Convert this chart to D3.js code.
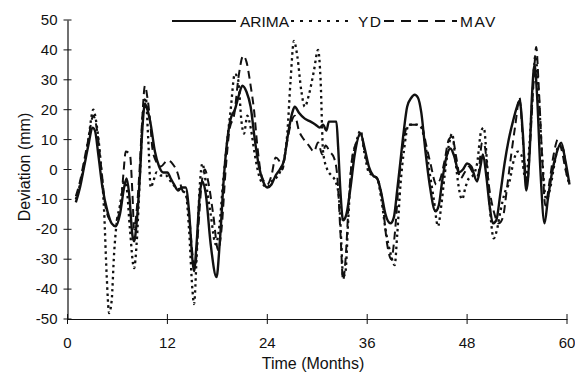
<!DOCTYPE html>
<html>
<head>
<meta charset="utf-8">
<script src="https://cdn.jsdelivr.net/npm/d3@7"></script>
<style>
  body { margin: 0; background: #fff; }
  svg { display: block; font-family: "Liberation Sans", Arial, sans-serif; }
</style>
</head>
<body>
<svg id="chart" width="575" height="376"></svg>
<script>
// Values (month, deviation in mm)
const arimaMonths = [1.0,1.5,2.0,2.5,3.0,3.3,3.7,4.2,4.8,5.3,5.8,6.3,6.8,7.1,7.4,7.8,8.0,8.3,8.7,9.0,9.3,9.6,10.0,10.5,11.0,11.5,12.0,12.4,12.8,13.3,13.7,14.2,14.6,15.0,15.2,15.5,15.9,16.2,16.6,17.2,17.9,18.3,18.8,19.2,19.6,20.1,20.6,21.0,21.5,22.0,22.5,23.0,23.5,24.0,24.5,25.0,25.5,26.0,26.5,27.0,27.3,27.8,28.5,29.2,29.8,30.3,30.7,31.1,31.4,32.0,32.3,32.5,32.8,33.1,33.5,34.0,34.5,35.2,35.7,36.2,36.7,37.2,37.7,38.2,38.8,39.2,39.6,40.0,40.4,40.8,41.3,41.7,42.1,42.5,43.0,43.5,44.2,44.6,45.0,45.5,46.0,46.5,47.0,47.5,48.0,48.5,49.2,49.6,49.9,50.3,50.7,51.1,51.5,52.0,52.5,53.0,53.5,54.0,54.3,54.7,55.1,55.5,55.8,56.1,56.4,56.8,57.3,57.7,58.2,58.7,59.3,59.8,60.3];
const arimaValues = [-11,-6,1,8,14,13,5,-6,-14,-18,-19,-15,-6,-3,-8,-22,-24,-18,-2,14,22,20,15,6,1,-1,-1,-3,-5,-7,-6,-6,-14,-30,-34,-25,-8,-4,-8,-25,-36,-24,-2,10,17,20,25,28,26,21,10,1,-4,-6,-5,-2,0,3,12,19,21,19,17,16,15,14,15,13,16,16,16,8,-8,-17,-15,-6,5,12,7,1,-2,-3,-8,-15,-18,-16,-7,3,13,21,24,25,24,19,6,-5,-14,-12,-4,4,7,4,-1,0,2,1,-4,1,5,-2,-12,-18,-17,-8,2,10,16,21,23,12,-7,5,25,35,25,0,-18,-10,-1,5,9,3,-5];

const ydMonths = [1.0,1.5,2.0,2.5,3.1,3.5,4.0,4.4,4.7,5.0,5.3,5.6,5.9,6.3,6.8,7.1,7.5,8.0,8.3,8.7,9.1,9.4,9.7,10.0,10.3,10.7,11.2,11.8,12.4,13.0,13.6,14.2,14.6,15.0,15.2,15.5,15.9,16.2,16.6,17.2,17.8,18.2,18.7,19.2,19.6,20.1,20.5,20.9,21.2,21.6,22.0,22.5,23.0,23.5,24.0,24.5,25.0,25.5,26.0,26.4,26.8,27.2,27.6,28.1,28.5,29.0,29.6,30.1,30.4,30.7,31.2,31.7,32.2,32.6,32.9,33.1,33.4,33.7,34.1,34.6,35.2,35.7,36.2,36.7,37.2,37.7,38.2,38.8,39.3,39.6,40.0,40.4,41.0,41.5,42.0,42.5,43.0,43.5,44.0,44.5,44.9,45.3,45.8,46.2,46.6,47.0,47.4,47.8,48.2,48.7,49.2,49.7,50.0,50.4,50.8,51.2,51.6,52.0,52.5,53.1,53.6,54.1,54.5,55.0,55.4,55.8,56.2,56.6,57.0,57.5,58.0,58.5,59.0,59.5,60.0,60.3];
const ydValues = [-10,-5,2,10,20,15,2,-14,-35,-48,-44,-28,-18,-12,-4,-6,-20,-33,-25,-2,20,24,10,-6,-4,-1,-2,-2,-4,-6,-7,-8,-20,-40,-45,-30,-5,2,-4,-15,-25,-20,-4,10,20,32,30,16,12,18,14,5,-2,-5,-6,-4,-3,-1,3,12,30,43,38,26,21,25,33,40,30,6,0,-2,-4,-9,-25,-36,-34,-18,1,8,13,5,-1,-2,-3,-10,-20,-28,-32,-22,-5,6,15,15,15,14,8,-1,-10,-19,-12,-2,8,12,3,-6,-10,-6,-3,-2,2,13,14,2,-15,-23,-20,-14,-8,-4,3,6,5,-3,5,22,38,25,5,-10,-6,2,8,7,-2,-5];

const mavMonths = [1.0,1.5,2.0,2.5,3.1,3.5,4.0,4.6,5.2,5.8,6.4,6.7,7.0,7.5,7.8,8.0,8.3,8.7,9.0,9.3,9.6,9.9,10.2,10.6,11.2,12.0,12.6,13.2,13.8,14.3,14.7,15.0,15.3,15.7,16.1,16.5,16.9,17.5,18.1,18.5,19.0,19.5,20.0,20.6,21.1,21.5,22.0,22.4,22.8,23.3,24.0,24.5,25.0,25.4,25.8,26.3,26.8,27.3,27.8,28.4,29.0,29.6,30.1,30.6,31.0,31.5,32.0,32.4,32.8,33.1,33.4,33.8,34.2,34.7,35.2,35.7,36.2,36.7,37.2,37.8,38.4,38.9,39.3,39.8,40.4,40.9,41.5,42.1,42.6,43.1,43.6,44.3,44.8,45.3,45.8,46.2,46.7,47.2,47.7,48.2,48.7,49.3,49.8,50.1,50.6,51.2,51.8,52.3,52.8,53.3,53.8,54.3,54.7,55.2,55.6,56.0,56.3,56.6,57.0,57.4,57.9,58.4,58.9,59.4,59.9,60.3];
const mavValues = [-9,-4,3,10,18,14,2,-13,-17,-17,-12,-2,6,5,-8,-20,-14,2,18,28,24,17,7,3,1,3,2,-1,-7,-9,-18,-28,-33,-20,-5,0,-4,-15,-27,-20,0,14,18,32,38,36,28,20,8,-2,-5,-2,4,3,0,8,15,18,13,10,8,6,9,5,8,6,4,-2,-22,-37,-30,-10,4,9,12,6,0,-2,-3,-10,-25,-30,-22,-4,10,15,15,15,14,8,2,-5,-3,3,10,11,4,-3,-1,1,-1,-2,9,8,-5,-14,-18,-16,-6,5,15,24,10,-5,10,30,41,28,5,-12,-4,5,10,6,-1,-4];

const xTicks = [0, 12, 24, 36, 48, 60];
const yTicks = [-50, -40, -30, -20, -10, 0, 10, 20, 30, 40, 50];

const seriesNames = ["ARIMA", "YD", "MAV"];

const svg = d3.select("#chart");

const x = d3.scaleLinear().domain([0, 60]).range([67.5, 567]);
const y = d3.scaleLinear().domain([-50, 50]).range([319, 20]);

const ink = "#111";

// Axes (ticks cross the axis line)
const xAxis = svg.append("g")
  .attr("transform", `translate(0,${y(-50)})`)
  .call(d3.axisBottom(x).tickValues(xTicks).tickSize(0).tickPadding(0).tickFormat(""));
xAxis.select(".domain").attr("stroke", ink).attr("stroke-width", 1.2);
xAxis.selectAll(".tick line").remove();
xTicks.forEach(t => {
  xAxis.append("line")
    .attr("x1", x(t)).attr("x2", x(t))
    .attr("y1", -5).attr("y2", 5)
    .attr("stroke", ink).attr("stroke-width", 1);
  xAxis.append("text")
    .attr("x", x(t)).attr("y", 29)
    .attr("text-anchor", "middle")
    .attr("font-size", 15)
    .attr("fill", ink)
    .text(t);
});

const yAxis = svg.append("g")
  .attr("transform", `translate(${x(0)},0)`)
  .call(d3.axisLeft(y).tickValues(yTicks).tickSize(0).tickFormat(""));
yAxis.select(".domain").attr("stroke", ink).attr("stroke-width", 1.2);
yTicks.forEach(t => {
  yAxis.append("line")
    .attr("x1", -4).attr("x2", 4)
    .attr("y1", y(t)).attr("y2", y(t))
    .attr("stroke", ink).attr("stroke-width", 1);
  yAxis.append("text")
    .attr("x", -10).attr("y", y(t) + 5)
    .attr("text-anchor", "end")
    .attr("font-size", 15)
    .attr("fill", ink)
    .text(t);
});

// Axis titles
svg.append("text")
  .attr("x", 313).attr("y", 369)
  .attr("text-anchor", "middle")
  .attr("font-size", 16)
  .attr("fill", ink)
  .text("Time (Months)");

svg.append("text")
  .attr("transform", "translate(30,167) rotate(-90)")
  .attr("text-anchor", "middle")
  .attr("font-size", 16)
  .attr("fill", ink)
  .text("Deviation (mm)");

// Lines
const line = d3.line()
  .x(d => x(d[0]))
  .y(d => y(d[1]))
  .curve(d3.curveMonotoneX);

const styles = {
  ARIMA: { width: 2.4, dash: null },
  YD: { width: 2.3, dash: "2.5,3.5" },
  MAV: { width: 2, dash: "8,5" }
};

const seriesData = {
  ARIMA: d3.zip(arimaMonths, arimaValues),
  YD: d3.zip(ydMonths, ydValues),
  MAV: d3.zip(mavMonths, mavValues)
};

["YD", "MAV", "ARIMA"].forEach(name => {
  svg.append("path")
    .datum(seriesData[name])
    .attr("fill", "none")
    .attr("stroke", ink)
    .attr("stroke-width", styles[name].width)
    .attr("stroke-dasharray", styles[name].dash)
    .attr("stroke-linejoin", "round")
    .attr("d", line);
});

// Legend along the top
const legendItems = [
  { name: "ARIMA", x1: 172, x2: 236, tx: 240 },
  { name: "YD", x1: 291, x2: 354, tx: 358 },
  { name: "MAV", x1: 384, x2: 457, tx: 460 }
];
const legend = svg.append("g");
legendItems.forEach(item => {
  legend.append("line")
    .attr("x1", item.x1).attr("x2", item.x2)
    .attr("y1", 21).attr("y2", 21)
    .attr("stroke", ink)
    .attr("stroke-width", item.name === "ARIMA" ? 2 : 2.2)
    .attr("stroke-dasharray", item.name === "YD" ? "3,6" : item.name === "MAV" ? "10,7" : null);
  legend.append("text")
    .attr("x", item.tx).attr("y", 27)
    .attr("font-size", 15.5)
    .attr("letter-spacing", item.name === "ARIMA" ? 0 : 1.5)
    .attr("fill", ink)
    .text(item.name);
});
</script>
</body>
</html>
